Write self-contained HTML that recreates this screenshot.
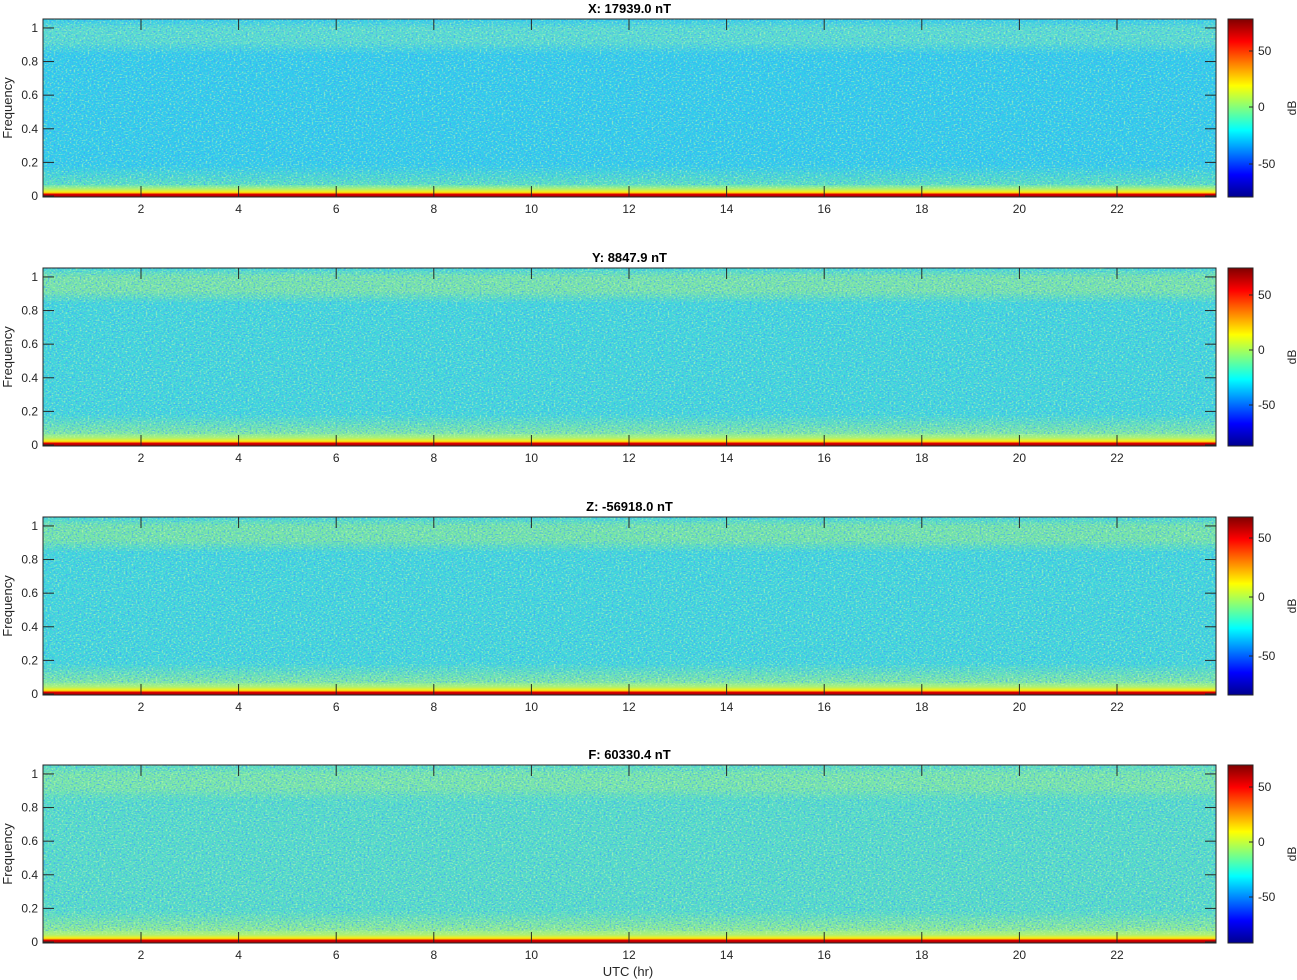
<!DOCTYPE html>
<html><head><meta charset="utf-8"><style>
html,body{margin:0;padding:0;background:#fff;}
svg{display:block;font-family:"Liberation Sans",sans-serif;}
</style></head><body>
<svg id="s" width="1297" height="980" xmlns="http://www.w3.org/2000/svg">
<defs>
<linearGradient id="jet" x1="0" y1="1" x2="0" y2="0">
<stop offset="0" stop-color="#00008f"/><stop offset="0.125" stop-color="#0000ff"/>
<stop offset="0.375" stop-color="#00ffff"/><stop offset="0.625" stop-color="#ffff00"/>
<stop offset="0.875" stop-color="#ff0000"/><stop offset="1" stop-color="#800000"/>
</linearGradient>
<filter id="noise" x="0" y="0" width="100%" height="100%">
<feTurbulence type="fractalNoise" baseFrequency="0.5 0.7" numOctaves="1" seed="3"/>
<feColorMatrix type="matrix" values="0 0 0 0 0.05  0 0 0 0 0.35  0 0 0 0 1  4 0 0 0 -2.0"/>
</filter>
<filter id="noise2" x="0" y="0" width="100%" height="100%">
<feTurbulence type="fractalNoise" baseFrequency="0.5 0.7" numOctaves="1" seed="9"/>
<feColorMatrix type="matrix" values="0 0 0 0 0.6  0 0 0 0 0.95  0 0 0 0 0.4  4 0 0 0 -2.0"/>
</filter>
</defs>
</svg>
<script>
const s=document.getElementById('s');const NS='http://www.w3.org/2000/svg';
function el(t,a,txt){const e=document.createElementNS(NS,t);for(const k in a)e.setAttribute(k,a[k]);if(txt!==undefined)e.textContent=txt;s.appendChild(e);return e;}
const panels=[
 {t:'X: 17939.0 nT',top:19,body:'#30ccec',band:'#58dcd0',low:'#58e0c0',cb:[51,107,164]},
 {t:'Y: 8847.9 nT',top:268,body:'#40d6dc',band:'#78e4a8',low:'#80e8a0',cb:[295,350,405]},
 {t:'Z: -56918.0 nT',top:517,body:'#40d6dc',band:'#74e4a8',low:'#80e8a0',cb:[538,597,656]},
 {t:'F: 60330.4 nT',top:765,body:'#54dcc8',band:'#78e6a8',low:'#90ec90',cb:[787,842,897]}
];
const X0=43,X1=1216;
panels.forEach((p,i)=>{
 const T=p.top,H=178,B=T+H;
 const gid='g'+i;
 const defs=s.querySelector('defs');
 const lg=document.createElementNS(NS,'linearGradient');lg.setAttribute('id',gid);lg.setAttribute('x1',0);lg.setAttribute('y1',0);lg.setAttribute('x2',0);lg.setAttribute('y2',1);
 [[0,p.body],[0.05,p.band],[0.13,p.band],[0.2,p.body],[0.82,p.body],[0.93,p.low],[0.955,'#b0f070'],[0.97,'#f0f020'],[0.978,'#ffc000'],[0.983,'#e00000'],[1,'#a00000']].forEach(([o,c])=>{const st=document.createElementNS(NS,'stop');st.setAttribute('offset',o);st.setAttribute('stop-color',c);lg.appendChild(st);});
 defs.appendChild(lg);
 el('rect',{x:X0,y:T,width:X1-X0,height:H,fill:'url(#'+gid+')'});
 el('rect',{x:X0,y:T,width:X1-X0,height:H*0.95,filter:'url(#noise2)',opacity:0.6});
 el('rect',{x:X0,y:T,width:X1-X0,height:H*0.93,filter:'url(#noise)',opacity:0.7});
 el('rect',{x:X0,y:T,width:X1-X0,height:H,fill:'none',stroke:'#262626','stroke-width':1});
 el('text',{x:(X0+X1)/2,y:T-6,'text-anchor':'middle','font-size':13,'font-weight':'bold',fill:'#000'},p.t);
 const py=v=>B-1-v*169*(H/179);
 [0,0.2,0.4,0.6,0.8,1].forEach(v=>{const y=py(v);
  el('line',{x1:X0,x2:X0+11,y1:y,y2:y,stroke:'#262626'});
  el('line',{x1:X1,x2:X1-11,y1:y,y2:y,stroke:'#262626'});
  el('text',{x:X0-5,y:y+4,'text-anchor':'end','font-size':12,fill:'#262626'},String(v));});
 for(let h=2;h<=22;h+=2){const x=X0+0.4+h*48.8;
  el('line',{x1:x,x2:x,y1:B,y2:B-11,stroke:'#262626'});
  el('line',{x1:x,x2:x,y1:T,y2:T+11,stroke:'#262626'});
  el('text',{x:x,y:B+16,'text-anchor':'middle','font-size':12,fill:'#262626'},String(h));}
 el('text',{x:0,y:0,transform:`translate(12,${T+H/2}) rotate(-90)`,'text-anchor':'middle','font-size':13,fill:'#262626'},'Frequency');
 el('rect',{x:1228,y:T,width:25,height:H,fill:'url(#jet)',stroke:'#262626'});
 [[50,0],[0,1],[-50,2]].forEach(([v,k])=>{const y=p.cb[k];
  el('line',{x1:1249,x2:1253,y1:y,y2:y,stroke:'#262626'});
  el('text',{x:1258,y:y+4,'font-size':12,fill:'#262626'},String(v));});
 el('text',{x:0,y:0,transform:`translate(1296,${T+H/2}) rotate(-90)`,'text-anchor':'middle','font-size':12,fill:'#262626'},'dB');
});
el('text',{x:628,y:976,'text-anchor':'middle','font-size':13,fill:'#262626'},'UTC (hr)');
</script>
</body></html>
